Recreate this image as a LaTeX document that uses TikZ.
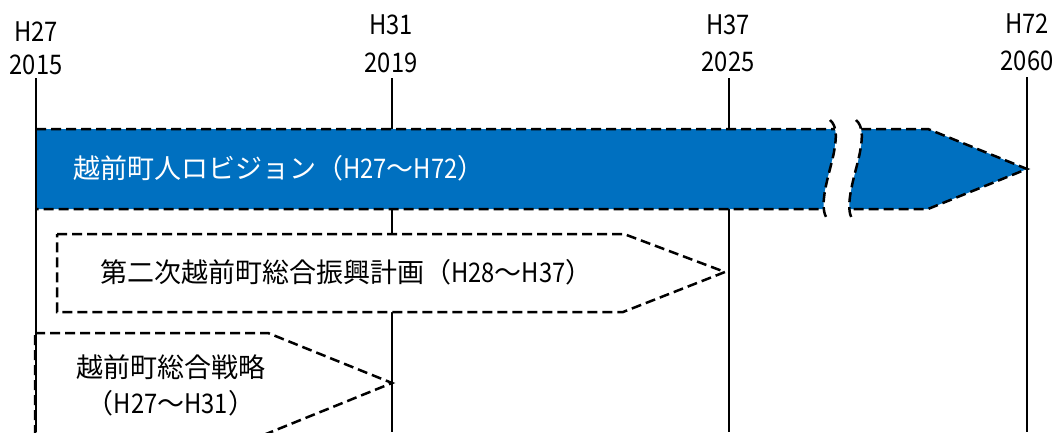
\documentclass[tikz,border=0pt]{standalone}
\usepackage{fontspec}
\newfontfamily\jp{Noto Sans CJK JP}
\newfontfamily\jpn{Noto Sans CJK JP}[FakeStretch=0.88]
\newcommand\lat[1]{{\jpn #1}}
\definecolor{barblue}{RGB}{0,112,192}
\tikzset{
  txt/.style={font=\jp\fontsize{27}{32}\selectfont, inner sep=0pt},
  yr/.style={font=\jpn\fontsize{27}{32}\selectfont, inner sep=0pt},
  axis/.style={line width=2.3pt, black},
  dsh/.style={line width=2.5pt, black, dash pattern=on 10pt off 5pt},
}
\begin{document}
\begin{tikzpicture}[x=1pt, y=-1pt]
\useasboundingbox (0,0) rectangle (1060,432);
\clip (0,0) rectangle (1060,432);
% year labels
\node[yr] (h27) at (36,32) {H27};
\node[yr] (y15) at (36,65) {2015};
\node[yr] (h31) at (391,25) {H31};
\node[yr] (y19) at (391,63) {2019};
\node[yr] (h37) at (728,25) {H37};
\node[yr] (y25) at (728,62) {2025};
\node[yr] (h72) at (1027,24) {H72};
\node[yr] (y60) at (1027,61) {2060};
% timeline coordinates
\coordinate (t15) at (36,78);   \coordinate (b15) at (36,432);
\coordinate (t19) at (392,78);  \coordinate (b19) at (392,432);
\coordinate (t25) at (729,78);  \coordinate (b25) at (729,432);
\coordinate (t60) at (1027,77); \coordinate (b60) at (1027,432);
\draw[axis] (t19) -- (b19);
\draw[axis] (t25) -- (b25);
\draw[axis] (t60) -- (b60);
% blue bar
\begin{scope}
  \clip (0,129) -- (928,129) -- (1027,169) -- (928,209) -- (0,209) -- cycle;
  \fill[barblue] (36,120) rectangle (1060,219);
\end{scope}
\draw[dsh] (36,129) -- (928,129) -- (1027,169) -- (928,209) -- (36,209);
\fill[white] (830,120) .. controls (837,126) and (838,138) .. (831,165)
  .. controls (825,188) and (820,208) .. (827,219)
  -- (852,219) .. controls (846,208) and (851,188) .. (857,165)
  .. controls (864,138) and (863,126) .. (856,120) -- cycle;
\draw[dsh] (830,120) .. controls (837,126) and (838,138) .. (831,165)
  .. controls (825,188) and (820,208) .. (827,219);
\draw[dsh] (856,120) .. controls (863,126) and (864,138) .. (857,165)
  .. controls (851,188) and (846,208) .. (852,219);
\node[txt, white, anchor=west] (vision) at (73,168)
  {越前町人ロビジョン（\lat{H27}～\lat{H72}）};
% second plan
\draw[dsh, fill=white] (57,234) -- (624,234) -- (725,272) -- (623,312) -- (57,312) -- cycle;
\node[txt, anchor=west] (plan) at (100,272)
  {第二次越前町総合振興計画（\lat{H28}～\lat{H37}）};
% strategy
\draw[dsh, fill=white] (35,333) -- (268,333) -- (392,383) -- (261,436) -- (35,436) -- cycle;
\node[txt] (strat1) at (171,367) {越前町総合戦略};
\node[txt] (strat2) at (171,403) {（\lat{H27}～\lat{H31}）};
\draw[axis] (t15) -- (b15);
\end{tikzpicture}
\end{document}
